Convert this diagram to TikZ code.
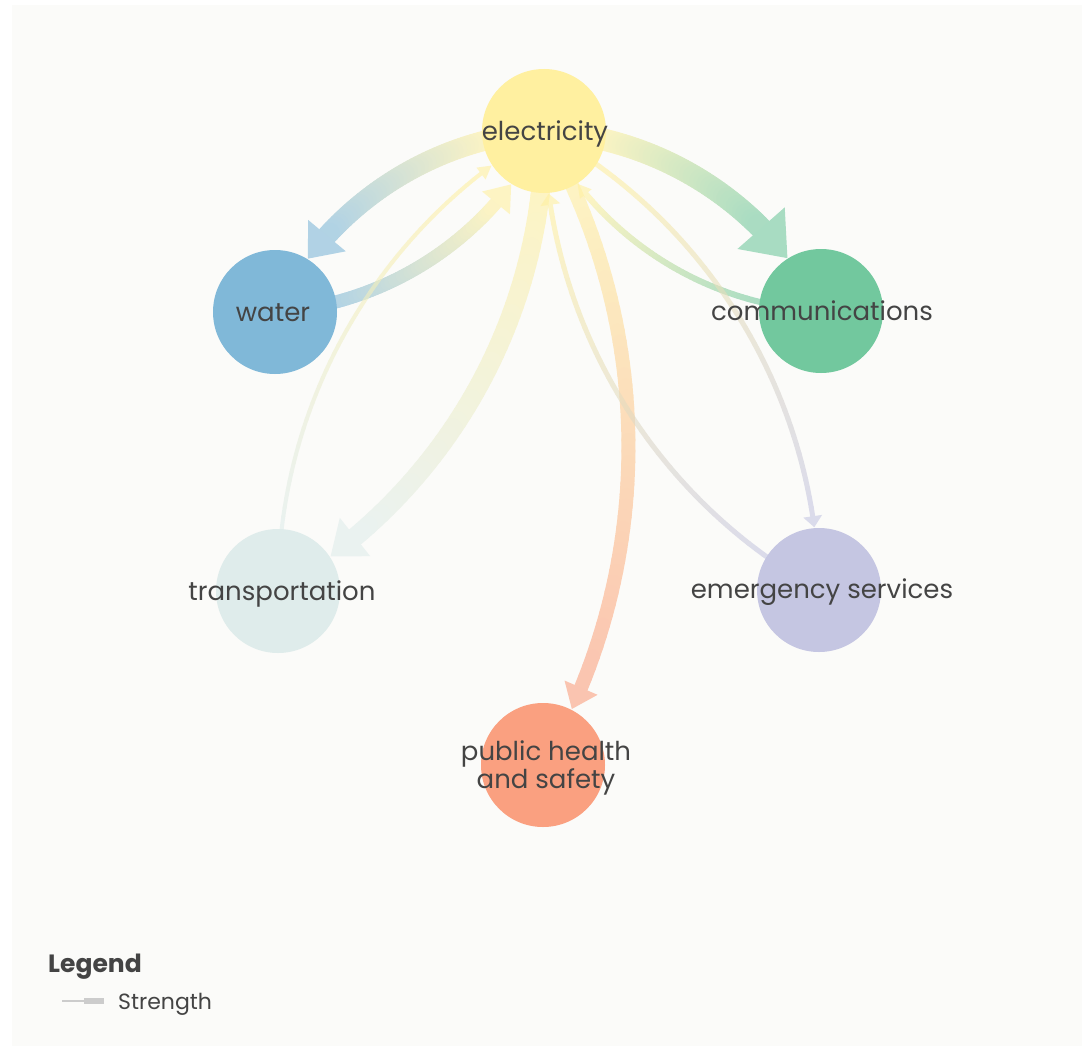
\documentclass[tikz,border=0pt]{standalone}
\usepackage{fontspec}
\setmainfont{Poppins}
\usetikzlibrary{calc}
\definecolor{elecC}{HTML}{FFF0A0}
\definecolor{waterC}{HTML}{80B8D8}
\definecolor{commC}{HTML}{72C89E}
\definecolor{transC}{HTML}{DFECEB}
\definecolor{emergC}{HTML}{C5C6E2}
\definecolor{phC}{HTML}{FAA080}
\definecolor{bgC}{HTML}{FBFBF9}
\definecolor{txtC}{HTML}{444444}
\definecolor{legC}{HTML}{CCCCCC}
\makeatletter
% #1 source node, #2 target node, #3 bend angle, #4 source colour, #5 target colour,
% #6 band width, #7 arrow length, #8 arrow width
\newcommand\gedge[8]{%
  \pgfpointdiff{\pgfpointanchor{#1}{center}}{\pgfpointanchor{#2}{center}}%
  \pgfmathveclen{\pgf@x}{\pgf@y}\let\gchord\pgfmathresult
  \pgfmathsetmacro\gts{0.75*62/(1.0472*\gchord)}%
  \pgfmathsetmacro\gtv{62/(1.0472*\gchord)}%
  \pgfmathsetmacro\gtb{1-(62+#7)/(1.0472*\gchord)}%
  \pgfmathsetmacro\gtt{1-62/(1.0472*\gchord)}%
  \pgfmathsetmacro\gna{-(#3)}%
  \pgfmathsetmacro\ghw{#8/2}%
  \begin{scope}[transparency group, opacity=0.6]
    \coordinate (ga) at (#1.center);
    \coordinate (gb) at ($(#1.center)!0.3573!#3:(#2.center)$);
    \coordinate (gc) at ($(#2.center)!0.3573!\gna:(#1.center)$);
    \coordinate (gd) at (#2.center);
    \foreach \i in {0,...,47}{%
      \pgfmathsetmacro\gua{\gts+(\gtb-\gts)*\i/48}%
      \pgfmathsetmacro\gub{\gts+(\gtb-\gts)*(\i+1)/48}%
      \pgfmathsetmacro\gmx{max(0,min(100,100*((\gua+\gub)/2-\gtv)/(\gtb-\gtv)))}%
      \pgfcoordinate{gsa}{\pgfpointcurveattime{\gua}{\pgfpointanchor{ga}{center}}{\pgfpointanchor{gb}{center}}{\pgfpointanchor{gc}{center}}{\pgfpointanchor{gd}{center}}}%
      \pgfcoordinate{gsb}{\pgfpointcurveattime{\gub}{\pgfpointanchor{ga}{center}}{\pgfpointanchor{gb}{center}}{\pgfpointanchor{gc}{center}}{\pgfpointanchor{gd}{center}}}%
      \draw[line width=#6pt, line cap=round, draw={#5!\gmx!#4}] (gsa) -- (gsb);
    }
    \pgfcoordinate{gpb}{\pgfpointcurveattime{\gtb}{\pgfpointanchor{ga}{center}}{\pgfpointanchor{gb}{center}}{\pgfpointanchor{gc}{center}}{\pgfpointanchor{gd}{center}}}%
    \pgfcoordinate{gpt}{\pgfpointcurveattime{\gtt}{\pgfpointanchor{ga}{center}}{\pgfpointanchor{gb}{center}}{\pgfpointanchor{gc}{center}}{\pgfpointanchor{gd}{center}}}%
    \fill[#5] ($(gpb)!\ghw pt!90:(gpt)$) -- (gpt) -- ($(gpb)!\ghw pt!-90:(gpt)$) -- cycle;
  \end{scope}
}
\makeatother
\begin{document}
\begin{tikzpicture}[x=1pt,y=-1pt,
  nodecirc/.style={circle, inner sep=0pt, minimum size=124pt},
  lbl/.style={anchor=base, text=txtC, font=\fontsize{26}{28}\selectfont, align=center},
]
\useasboundingbox (0,0) rectangle (1089,1049);
\fill[white] (0,0) rectangle (1089,1049);
\fill[bgC] (12,5) rectangle (1082,1046);
% node positions
\node[nodecirc] (elec) at (544,131) {};
\node[nodecirc] (water) at (275,312) {};
\node[nodecirc] (comm) at (821,311) {};
\node[nodecirc] (trans) at (278,591) {};
\node[nodecirc] (emerg) at (819,590) {};
\node[nodecirc] (ph) at (543,765) {};
% edges
\gedge{elec}{water}{-30}{elecC}{waterC}{20}{30}{49}
\gedge{water}{elec}{-30}{waterC}{elecC}{13}{24}{36}
\gedge{elec}{comm}{30}{elecC}{commC}{22}{40}{63}
\gedge{elec}{trans}{30}{elecC}{transC}{19}{31}{49}
\gedge{elec}{ph}{30}{elecC}{phC}{14}{23}{36}
\gedge{comm}{elec}{30}{commC}{elecC}{6}{13}{15}
\gedge{trans}{elec}{30}{transC}{elecC}{4}{13}{15}
\gedge{emerg}{elec}{30}{emergC}{elecC}{5}{11}{20}
\gedge{elec}{emerg}{30}{elecC}{emergC}{5}{11}{19}
% circles on top
\fill[elecC] (elec) circle[radius=62];
\fill[waterC] (water) circle[radius=62];
\fill[commC] (comm) circle[radius=62];
\fill[transC] (trans) circle[radius=62];
\fill[emergC] (emerg) circle[radius=62];
\fill[phC] (ph) circle[radius=62];
% labels
\node[lbl] (elecL) at (545,140) {electricity};
\node[lbl] (waterL) at (273,321) {water};
\node[lbl] (commL) at (822,320) {communications};
\node[lbl] (transL) at (282,600) {transportation};
\node[lbl] (emergL) at (822,598) {emergency services};
\node[lbl] (phL) at (546,788) {public health\\and safety};
% legend
\node[anchor=base west, inner sep=0pt, text=txtC, font=\fontsize{25}{28}\selectfont\bfseries] (legT) at (48,972) {Legend};
\coordinate (lg1) at (62,1001);
\coordinate (lg2) at (84,1001);
\coordinate (lg3) at (104,1001);
\draw[legC, line width=1.5pt] (lg1) -- (lg2);
\draw[legC, line width=6pt] (lg2) -- (lg3);
\node[anchor=base west, inner sep=0pt, text=txtC, font=\fontsize{22}{26}\selectfont] (legS) at (118,1009) {Strength};
\end{tikzpicture}
\end{document}
